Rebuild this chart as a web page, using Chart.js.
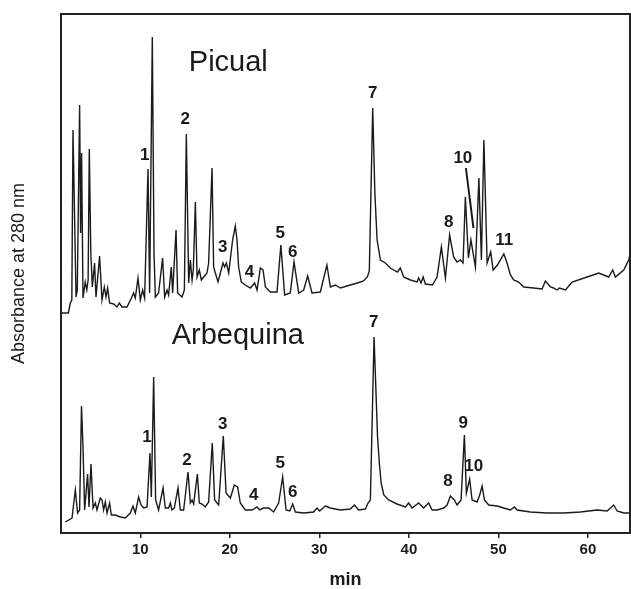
<!DOCTYPE html>
<html>
<head>
<meta charset="utf-8">
<title>Picual / Arbequina</title>
<script src="https://cdn.jsdelivr.net/npm/chart.js@4.4.1/dist/chart.umd.min.js"></script>
<style>
  body { margin: 0; background: #fff; }
  canvas { display: block; }
</style>
</head>
<body>
<canvas id="hplc" width="631" height="589"></canvas>
<script>
// [retention time (min), absorbance (a.u.)]
const picual = [
    [1.17, 220], [1.96, 220], [2.18, 230], [2.35, 233], [2.48, 403], [2.82, 236], [2.96, 243], [3.22, 428],
    [3.33, 300], [3.44, 380], [3.6, 235], [3.85, 251], [4.02, 243], [4.17, 253], [4.30, 384], [4.47, 280],
    [4.64, 246], [4.89, 270], [5.05, 236], [5.45, 277], [5.72, 233], [5.98, 246], [6.17, 236], [6.35, 245],
    [6.57, 230], [7.02, 229], [7.4, 226], [7.65, 230], [7.96, 226], [8.51, 226], [9.0, 235], [9.25, 240],
    [9.44, 235], [9.74, 255], [10.0, 233], [10.26, 243], [10.48, 235], [10.86, 364], [11.04, 240], [11.34, 496],
    [11.53, 280], [11.68, 236], [12.04, 240], [12.49, 275], [12.72, 236], [12.98, 243], [13.16, 238], [13.46, 266],
    [13.61, 240], [13.99, 303], [14.17, 240], [14.66, 236], [14.92, 243], [15.14, 399], [15.4, 250], [15.59, 273],
    [15.78, 253], [15.92, 263], [16.15, 331], [16.34, 256], [16.59, 263], [16.82, 253], [17.07, 256], [17.45, 260],
    [17.63, 270], [18.01, 365], [18.19, 266], [18.38, 260], [18.68, 251], [18.94, 260], [19.24, 270], [19.42, 266],
    [19.61, 270], [19.87, 260], [20.31, 293], [20.61, 307], [20.8, 293], [20.98, 266], [21.28, 251], [21.73, 248],
    [22.29, 245], [22.77, 250], [23.04, 243], [23.41, 265], [23.71, 263], [23.97, 246], [24.53, 241], [25.27, 241],
    [25.7, 288], [26.12, 238], [26.75, 240], [27.17, 271], [27.69, 240], [28.25, 243], [28.69, 257], [29.18, 240],
    [30.11, 241], [30.84, 268], [31.23, 246], [31.79, 248], [32.35, 245], [33.46, 248], [34.25, 250], [34.92, 252],
    [35.36, 256], [35.58, 262], [35.96, 425], [36.2, 340], [36.45, 293], [36.82, 273], [37.37, 270], [37.93, 265],
    [38.72, 261], [39.05, 265], [39.42, 256], [40.17, 253], [40.92, 251], [41.09, 255], [41.36, 250], [41.59, 256],
    [41.84, 249], [42.63, 248], [43.15, 256], [43.63, 286], [44.08, 255], [44.55, 298], [45.0, 276], [45.38, 271],
    [45.75, 273], [46.05, 270], [46.31, 336], [46.65, 275], [46.93, 293], [47.43, 266], [47.82, 355], [48.1, 273],
    [48.38, 393], [48.74, 270], [49.14, 281], [49.41, 263], [49.89, 268], [50.61, 279], [50.97, 270], [51.34, 258],
    [51.71, 253], [52.27, 251], [52.83, 246], [53.94, 245], [54.88, 244], [55.25, 252], [55.81, 246], [56.15, 245],
    [56.56, 243], [56.82, 245], [57.49, 243], [58.23, 251], [59.91, 256], [61.21, 260], [62.32, 256], [62.77, 263],
    [63.07, 256], [64.0, 263], [64.56, 273], [64.75, 281]
];

const arbequina = [
    [1.62, 11], [2.37, 15], [2.74, 43], [2.99, 20], [3.22, 23], [3.43, 127], [3.6, 85], [3.78, 23],
    [4.11, 59], [4.27, 26], [4.49, 69], [4.72, 25], [4.97, 30], [5.16, 23], [5.53, 35], [5.72, 33],
    [5.9, 23], [6.09, 31], [6.28, 20], [6.57, 30], [6.76, 18], [7.21, 18], [7.77, 16], [8.32, 15],
    [8.88, 20], [9.18, 27], [9.44, 20], [9.81, 36], [10.08, 28], [10.37, 25], [10.75, 26], [11.08, 80],
    [11.23, 36], [11.49, 156], [11.71, 33], [12.04, 23], [12.54, 45], [12.79, 25], [13.16, 25], [13.35, 30],
    [13.54, 23], [13.8, 25], [14.21, 45], [14.47, 23], [14.84, 23], [15.33, 61], [15.59, 30], [15.78, 33],
    [15.96, 29], [16.37, 59], [16.59, 30], [16.89, 29], [17.26, 26], [17.63, 31], [18.04, 90], [18.3, 33],
    [18.75, 28], [19.27, 97], [19.58, 40], [20.06, 35], [20.5, 48], [20.87, 46], [21.17, 30], [21.73, 23],
    [22.48, 23], [23.04, 26], [23.33, 23], [23.78, 25], [24.34, 25], [24.89, 21], [25.45, 30], [25.9, 56],
    [26.28, 23], [26.7, 22], [27.02, 29], [27.32, 21], [28.25, 20], [29.36, 21], [29.74, 25], [30.03, 22],
    [30.67, 27], [31.23, 25], [32.35, 23], [33.46, 24], [33.91, 28], [34.39, 23], [35.14, 24], [35.44, 30],
    [35.7, 33], [36.11, 196], [36.5, 96], [36.7, 70], [36.9, 50], [37.2, 38], [37.74, 33], [38.68, 29],
    [39.61, 26], [39.98, 30], [40.36, 25], [41.09, 30], [41.65, 25], [42.21, 30], [42.59, 23], [43.15, 23],
    [43.89, 25], [44.27, 28], [44.64, 37], [45.08, 33], [45.38, 28], [45.83, 33], [46.2, 98], [46.42, 40],
    [46.79, 54], [47.06, 33], [47.62, 31], [47.91, 38], [48.18, 47], [48.44, 33], [48.92, 28], [49.85, 27],
    [50.59, 25], [51.34, 23], [51.79, 26], [52.09, 23], [53.58, 21], [55.44, 20], [57.3, 20], [59.16, 21],
    [61.03, 23], [62.15, 22], [62.88, 28], [63.26, 22], [64.0, 20], [64.75, 20]
];

const xTicks = [10, 20, 30, 40, 50, 60];

// [name, time, absorbance] where the cultivar name sits
const cultivars = [['Picual', 19.83, 470], ['Arbequina', 20.89, 197]];

// [peak number, time, absorbance] of each peak label
const picualPeaks = [
    ['1', 10.48, 378], ['2', 15.03, 414], ['3', 19.2, 286], ['4', 22.18, 261], ['5', 25.64, 300],
    ['6', 27.02, 281], ['7', 35.96, 440], ['8', 44.45, 311], ['10', 46.03, 375], ['11', 50.64, 293]
];
const arbequinaPeaks = [
    ['1', 10.75, 96], ['2', 15.22, 73], ['3', 19.2, 109], ['4', 22.66, 38], ['5', 25.64, 70],
    ['6', 27.02, 41], ['7', 36.07, 211], ['8', 44.38, 52], ['9', 46.06, 110], ['10', 47.24, 67]
];
// leader from the "10" label down to its peak in Picual
const picualLeader = [[46.37, 365], [47.21, 305]];

const ink = '#1a1a1a';
const fontFamily = '"Liberation Sans", Arial, Helvetica, sans-serif';
const toXY = arr => arr.map(p => ({ x: p[0], y: p[1] }));

const annotate = {
    id: 'annotate',
    afterDatasetsDraw(chart) {
        const { ctx, chartArea, scales: { x, y } } = chart;
        ctx.save();
        // box round the plot
        ctx.strokeStyle = '#222';
        ctx.lineWidth = 2;
        ctx.strokeRect(chartArea.left, chartArea.top, chartArea.right - chartArea.left, chartArea.bottom - chartArea.top);

        ctx.fillStyle = ink;
        ctx.textAlign = 'center';
        ctx.textBaseline = 'middle';
        ctx.font = '29px ' + fontFamily;
        cultivars.forEach(c => {
            ctx.fillText(c[0], x.getPixelForValue(c[1]), y.getPixelForValue(c[2]));
        });

        ctx.font = 'bold 17px ' + fontFamily;
        picualPeaks.concat(arbequinaPeaks).forEach(p => {
            ctx.fillText(p[0], x.getPixelForValue(p[1]), y.getPixelForValue(p[2]));
        });

        ctx.strokeStyle = ink;
        ctx.lineWidth = 2;
        ctx.beginPath();
        ctx.moveTo(x.getPixelForValue(picualLeader[0][0]), y.getPixelForValue(picualLeader[0][1]));
        ctx.lineTo(x.getPixelForValue(picualLeader[1][0]), y.getPixelForValue(picualLeader[1][1]));
        ctx.stroke();
        ctx.restore();
    }
};

const ctx = document.getElementById('hplc').getContext('2d');

const chart = new Chart(ctx, {
    type: 'line',
    data: {
        datasets: [{
            label: 'Picual',
            data: toXY(picual),
            borderColor: ink,
            borderWidth: 1.4,
            pointRadius: 0,
            tension: 0
        }, {
            label: 'Arbequina',
            data: toXY(arbequina),
            borderColor: ink,
            borderWidth: 1.4,
            pointRadius: 0,
            tension: 0
        }]
    },
    options: {
        responsive: false,
        animation: false,
        layout: {
            padding: { top: 14, right: 1, left: 0, bottom: 0 }
        },
        plugins: {
            legend: { display: false },
            tooltip: { enabled: false }
        },
        scales: {
            x: {
                type: 'linear',
                min: 1.14,
                max: 64.7,
                afterBuildTicks: scale => {
                    scale.ticks = xTicks.map(v => ({ value: v }));
                },
                afterFit: scale => {
                    scale.height = 56;
                },
                ticks: {
                    color: ink,
                    padding: 3,
                    maxRotation: 0,
                    font: { family: fontFamily, size: 15, weight: 'bold' }
                },
                grid: {
                    drawOnChartArea: false,
                    drawTicks: true,
                    tickLength: 5,
                    color: '#222',
                    lineWidth: 1.5
                },
                border: { display: false },
                title: {
                    display: true,
                    text: 'min',
                    color: ink,
                    padding: 0,
                    font: { family: fontFamily, size: 18, weight: 'bold', lineHeight: 1 }
                }
            },
            y: {
                type: 'linear',
                min: 0,
                max: 519,
                afterFit: scale => {
                    scale.width = 61;
                },
                ticks: { display: false },
                grid: { display: false },
                border: { display: false },
                title: {
                    display: true,
                    text: 'Absorbance at 280 nm',
                    color: ink,
                    padding: { top: 8, bottom: 0 },
                    font: { family: fontFamily, size: 18 }
                }
            }
        }
    },
    plugins: [annotate]
});
</script>
</body>
</html>
